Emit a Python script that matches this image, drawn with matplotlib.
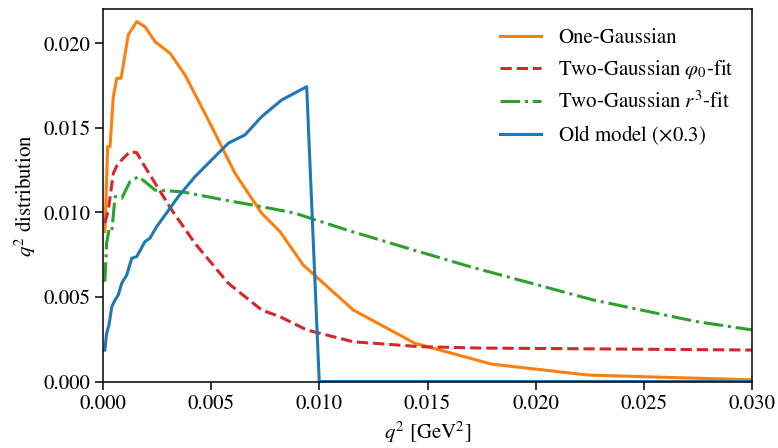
import matplotlib
matplotlib.use('Agg')
import matplotlib.pyplot as plt

# One-Gaussian
q2_one = [0.00010, 0.00023, 0.00034, 0.00049, 0.00065, 0.00085, 0.00118, 0.00157,
          0.00195, 0.00242, 0.00311, 0.00380, 0.00488, 0.00611, 0.00734, 0.00819,
          0.00926, 0.01157, 0.01442, 0.01796, 0.02243, 0.03000]
y_one = [0.00886, 0.01389, 0.01389, 0.01684, 0.01793, 0.01793, 0.02049, 0.02128,
         0.02098, 0.02009, 0.01941, 0.01813, 0.01546, 0.01231, 0.00995, 0.00886,
         0.00689, 0.00423, 0.00226, 0.00103, 0.00038, 0.00010]

# Two-Gaussian phi0-fit
q2_phi = [0.00010, 0.00026, 0.00049, 0.00065, 0.00088, 0.00126, 0.00157, 0.00195,
          0.00242, 0.00319, 0.00426, 0.00580, 0.00734, 0.00819, 0.00942, 0.01157,
          0.01465, 0.01742, 0.03000]
y_phi = [0.00936, 0.01014, 0.01231, 0.01274, 0.01310, 0.01359, 0.01353, 0.01270,
         0.01172, 0.01014, 0.00817, 0.00581, 0.00423, 0.00383, 0.00305, 0.00235,
         0.00206, 0.00198, 0.00186]

# Two-Gaussian r^3-fit
q2_r3 = [0.00010, 0.00018, 0.00029, 0.00042, 0.00057, 0.00088, 0.00126, 0.00164,
         0.00195, 0.00242, 0.00365, 0.00580, 0.00734, 0.00888, 0.01127, 0.01434,
         0.01696, 0.02266, 0.02743, 0.03000]
y_r3 = [0.00590, 0.00817, 0.00896, 0.00886, 0.01093, 0.01083, 0.01182, 0.01211,
        0.01182, 0.01132, 0.01122, 0.01069, 0.01034, 0.00995, 0.00896, 0.00778,
        0.00679, 0.00482, 0.00354, 0.00305]

# Old model (x0.3)
q2_old = [0.00010, 0.00018, 0.00029, 0.00042, 0.00057, 0.00072, 0.00088, 0.00111,
          0.00134, 0.00157, 0.00195, 0.00218, 0.00249, 0.00349, 0.00426, 0.00580,
          0.00657, 0.00734, 0.00827, 0.00942, 0.01000, 0.03000]
y_old = [0.00186, 0.00285, 0.00334, 0.00442, 0.00482, 0.00512, 0.00581, 0.00630,
         0.00729, 0.00738, 0.00827, 0.00847, 0.00915, 0.01093, 0.01211, 0.01409,
         0.01458, 0.01566, 0.01665, 0.01743, 0.0, 0.0]

plt.rcParams['font.family'] = 'STIXGeneral'
plt.rcParams['mathtext.fontset'] = 'stix'
plt.rcParams['font.size'] = 15

fig = plt.figure(figsize=(7.78, 4.48), dpi=100)
ax = fig.add_axes([0.132, 0.1484, 0.835, 0.8306])

lw = 2.2
ax.plot(q2_one, y_one, color='#ff7f0e', lw=lw, label='One-Gaussian')
ax.plot(q2_phi, y_phi, color='#d62728', lw=lw, ls='--', label=r'Two-Gaussian $\varphi_0$-fit')
ax.plot(q2_r3, y_r3, color='#2ca02c', lw=lw, ls='-.', label=r'Two-Gaussian $r^3$-fit')
ax.plot(q2_old, y_old, color='#1f77b4', lw=lw, label=r'Old model ($\times$0.3)')

ax.set_xlim(0, 0.030)
ax.set_ylim(0, 0.022)
ax.set_xticks([0.000, 0.005, 0.010, 0.015, 0.020, 0.025, 0.030])
ax.set_xticklabels(['0.000', '0.005', '0.010', '0.015', '0.020', '0.025', '0.030'])
ax.set_yticks([0.000, 0.005, 0.010, 0.015, 0.020])
ax.set_yticklabels(['0.000', '0.005', '0.010', '0.015', '0.020'])
ax.tick_params(length=5.5, width=1.1)
for s in ax.spines.values():
    s.set_linewidth(1.1)

ax.set_xlabel(r'$q^2$ [GeV$^2$]')
ax.set_ylabel(r'$q^2$ distribution')
ax.legend(loc='upper right', frameon=False)

fig.savefig('out.png', dpi=100)
plt.close(fig)
